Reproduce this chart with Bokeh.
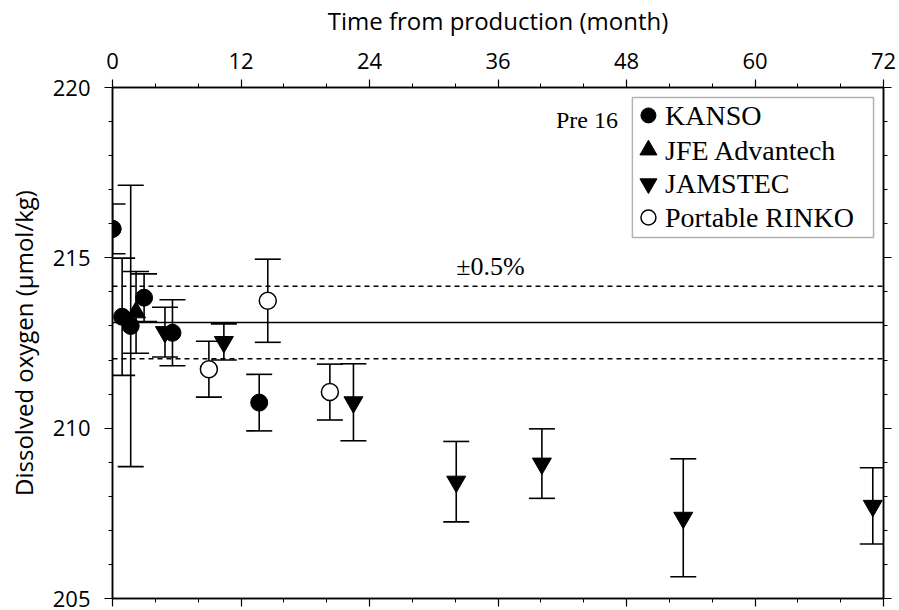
import math
from bokeh.plotting import figure
from bokeh.models import (Range1d, LinearAxis, FixedTicker, Whisker, TeeHead,
                          ColumnDataSource, Span, Label, BoxAnnotation,
                          CustomLabelingPolicy, PolyAnnotation)
from bokeh.embed import file_html
from bokeh.resources import INLINE

# ---- data ----
kanso_month = [0.0, 0.9, 1.7, 2.95, 5.6, 13.7]
kanso_do = [215.85, 213.27, 213.0, 213.83, 212.8, 210.75]
kanso_err = [0.73, 1.72, 4.13, 0.70, 0.97, 0.83]

jfe_month = [2.2]
jfe_do = [213.4]
jfe_err = [1.2]

jamstec_month = [4.9, 10.4, 22.5, 32.1, 40.1, 53.3, 71.0]
jamstec_do = [212.82, 212.53, 210.76, 208.43, 208.96, 207.37, 207.72]
jamstec_err = [0.73, 0.53, 1.13, 1.18, 1.02, 1.73, 1.12]

rinko_month = [9.0, 14.5, 20.3]
rinko_do = [211.73, 213.74, 211.06]
rinko_err = [0.82, 1.22, 0.82]

mean_do = 213.1
band_pct = 0.5

series_names = ["KANSO", "JFE Advantech", "JAMSTEC", "Portable RINKO"]

x_major = [0, 12, 24, 36, 48, 60, 72]
x_minor = list(range(0, 73, 4))
y_major = [205, 210, 215, 220]
y_minor = list(range(205, 221))

SANS = "Open Sans"
SERIF = "Liberation Serif"

X0, X1, Y0, Y1 = 0, 72, 205, 220
W, H = 899, 610
BL, BR, BT, BB = 112, 16, 85, 10
px_per_x = (W - BL - BR) / (X1 - X0)
px_per_y = (H - BT - BB) / (Y1 - Y0)

p = figure(width=W, height=H, output_backend="svg", toolbar_location=None,
           x_range=Range1d(X0, X1), y_range=Range1d(Y0, Y1),
           x_axis_location="above",
           min_border_left=BL, min_border_right=BR, min_border_top=BT,
           min_border_bottom=BB)
p.xgrid.visible = False
p.ygrid.visible = False
p.outline_line_color = "black"
p.outline_line_width = 1.5
p.background_fill_color = "white"
p.border_fill_color = "white"

no_labels = CustomLabelingPolicy(code="return new Set()")

def style_axis(ax, labels=True):
    ax.axis_line_color = "black"
    ax.axis_line_width = 1.5
    ax.major_tick_line_color = "black"
    ax.minor_tick_line_color = "black"
    ax.major_tick_line_width = 1.2
    ax.minor_tick_line_width = 1.0
    ax.major_tick_in = 0
    ax.major_tick_out = 8
    ax.minor_tick_in = 0
    ax.minor_tick_out = 4
    if labels:
        ax.major_label_text_font = SANS
        ax.major_label_text_font_size = "22px"
        ax.major_label_text_color = "black"
    else:
        ax.major_label_policy = no_labels
        ax.major_label_text_font_size = "1px"
        ax.major_label_standoff = 0

# top x axis
xa = p.xaxis[0]
xa.ticker = FixedTicker(ticks=x_major, minor_ticks=x_minor)
style_axis(xa)
xa.major_label_standoff = 11
xa.axis_label = "Time from production (month)"
xa.axis_label_text_font = SANS
xa.axis_label_text_font_size = "24px"
xa.axis_label_text_font_style = "normal"
xa.axis_label_text_color = "black"
xa.axis_label_standoff = 13

# bottom axis
xb = LinearAxis(ticker=FixedTicker(ticks=x_major, minor_ticks=x_minor))
style_axis(xb, labels=False)
p.add_layout(xb, "below")

# left y axis
ya = p.yaxis[0]
ya.ticker = FixedTicker(ticks=y_major, minor_ticks=y_minor)
style_axis(ya)
ya.major_label_standoff = 14
ya.axis_label = "Dissolved oxygen (\u00b5mol/kg)"
ya.axis_label_text_font = SANS
ya.axis_label_text_font_size = "24px"
ya.axis_label_text_font_style = "normal"
ya.axis_label_text_color = "black"
ya.axis_label_standoff = 10

# right axis
yr = LinearAxis(ticker=FixedTicker(ticks=y_major, minor_ticks=y_minor))
style_axis(yr, labels=False)
p.add_layout(yr, "right")

# reference lines
p.add_layout(Span(location=mean_do, dimension="width", line_color="black",
                  line_width=1.5))
for f in (1 + band_pct / 100, 1 - band_pct / 100):
    p.add_layout(Span(location=mean_do * f, dimension="width", line_color="black",
                      line_width=1.5, line_dash="5 4"))

def series(months, vals, errs):
    return ColumnDataSource(dict(x=months, y=vals,
                                 upper=[v + e for v, e in zip(vals, errs)],
                                 lower=[v - e for v, e in zip(vals, errs)]))

sources = [series(kanso_month, kanso_do, kanso_err),
           series(jfe_month, jfe_do, jfe_err),
           series(jamstec_month, jamstec_do, jamstec_err),
           series(rinko_month, rinko_do, rinko_err)]

for s in sources:
    w = Whisker(base="x", upper="upper", lower="lower", source=s,
                line_color="black", line_width=1.6,
                upper_head=TeeHead(size=26, line_color="black", line_width=1.6),
                lower_head=TeeHead(size=26, line_color="black", line_width=1.6))
    p.add_layout(w)

styles = [dict(marker="circle", size=17, fill_color="black", line_color="black"),
          dict(marker="triangle", size=19, fill_color="black", line_color="black"),
          dict(marker="inverted_triangle", size=19, fill_color="black", line_color="black"),
          dict(marker="circle", size=17, fill_color="white", line_color="black",
               line_width=1.5)]

for i in (2, 1, 0, 3):
    p.scatter("x", "y", source=sources[i], **styles[i])

# circle markers sitting on the frame edge would be clipped: redraw them
# unclipped as annotations at the same data position
r_px = styles[0]["size"] / 2
for mx, my in zip(kanso_month, kanso_do):
    if (mx - X0) * px_per_x < r_px:
        n = 40
        xs = [mx + r_px / px_per_x * math.cos(2 * math.pi * k / n) for k in range(n)]
        ys = [my + r_px / px_per_y * math.sin(2 * math.pi * k / n) for k in range(n)]
        p.add_layout(PolyAnnotation(xs=xs, ys=ys, fill_color="black", fill_alpha=1.0,
                                    line_color="black", line_alpha=1.0))

# legend (manual, drawn in data space of the frame)
p.add_layout(BoxAnnotation(left=48.55, right=71.07, bottom=215.60, top=219.71,
                           fill_color="white", fill_alpha=1.0, line_color="black",
                           line_width=1.5, level="underlay"))
leg_y = [219.18, 218.165, 217.175, 216.184]
for i, name in enumerate(series_names):
    st = dict(styles[i])
    st["size"] = st["size"] - 2
    p.scatter([50.05], [leg_y[i]], **st)
    p.add_layout(Label(x=51.6, y=leg_y[i], text=name, text_font=SERIF,
                       text_font_size="28px", text_baseline="middle",
                       text_color="black"))

p.add_layout(Label(x=47.2, y=219.04, text="Pre 16", text_font=SERIF,
                   text_font_size="24px", text_baseline="middle", text_align="right",
                   text_color="black"))
p.add_layout(Label(x=35.3, y=214.74, text="\u00b10.5%", text_font=SERIF,
                   text_font_size="26px", text_baseline="middle", text_align="center",
                   text_color="black"))

open("out.html", "w").write(file_html(p, INLINE))
